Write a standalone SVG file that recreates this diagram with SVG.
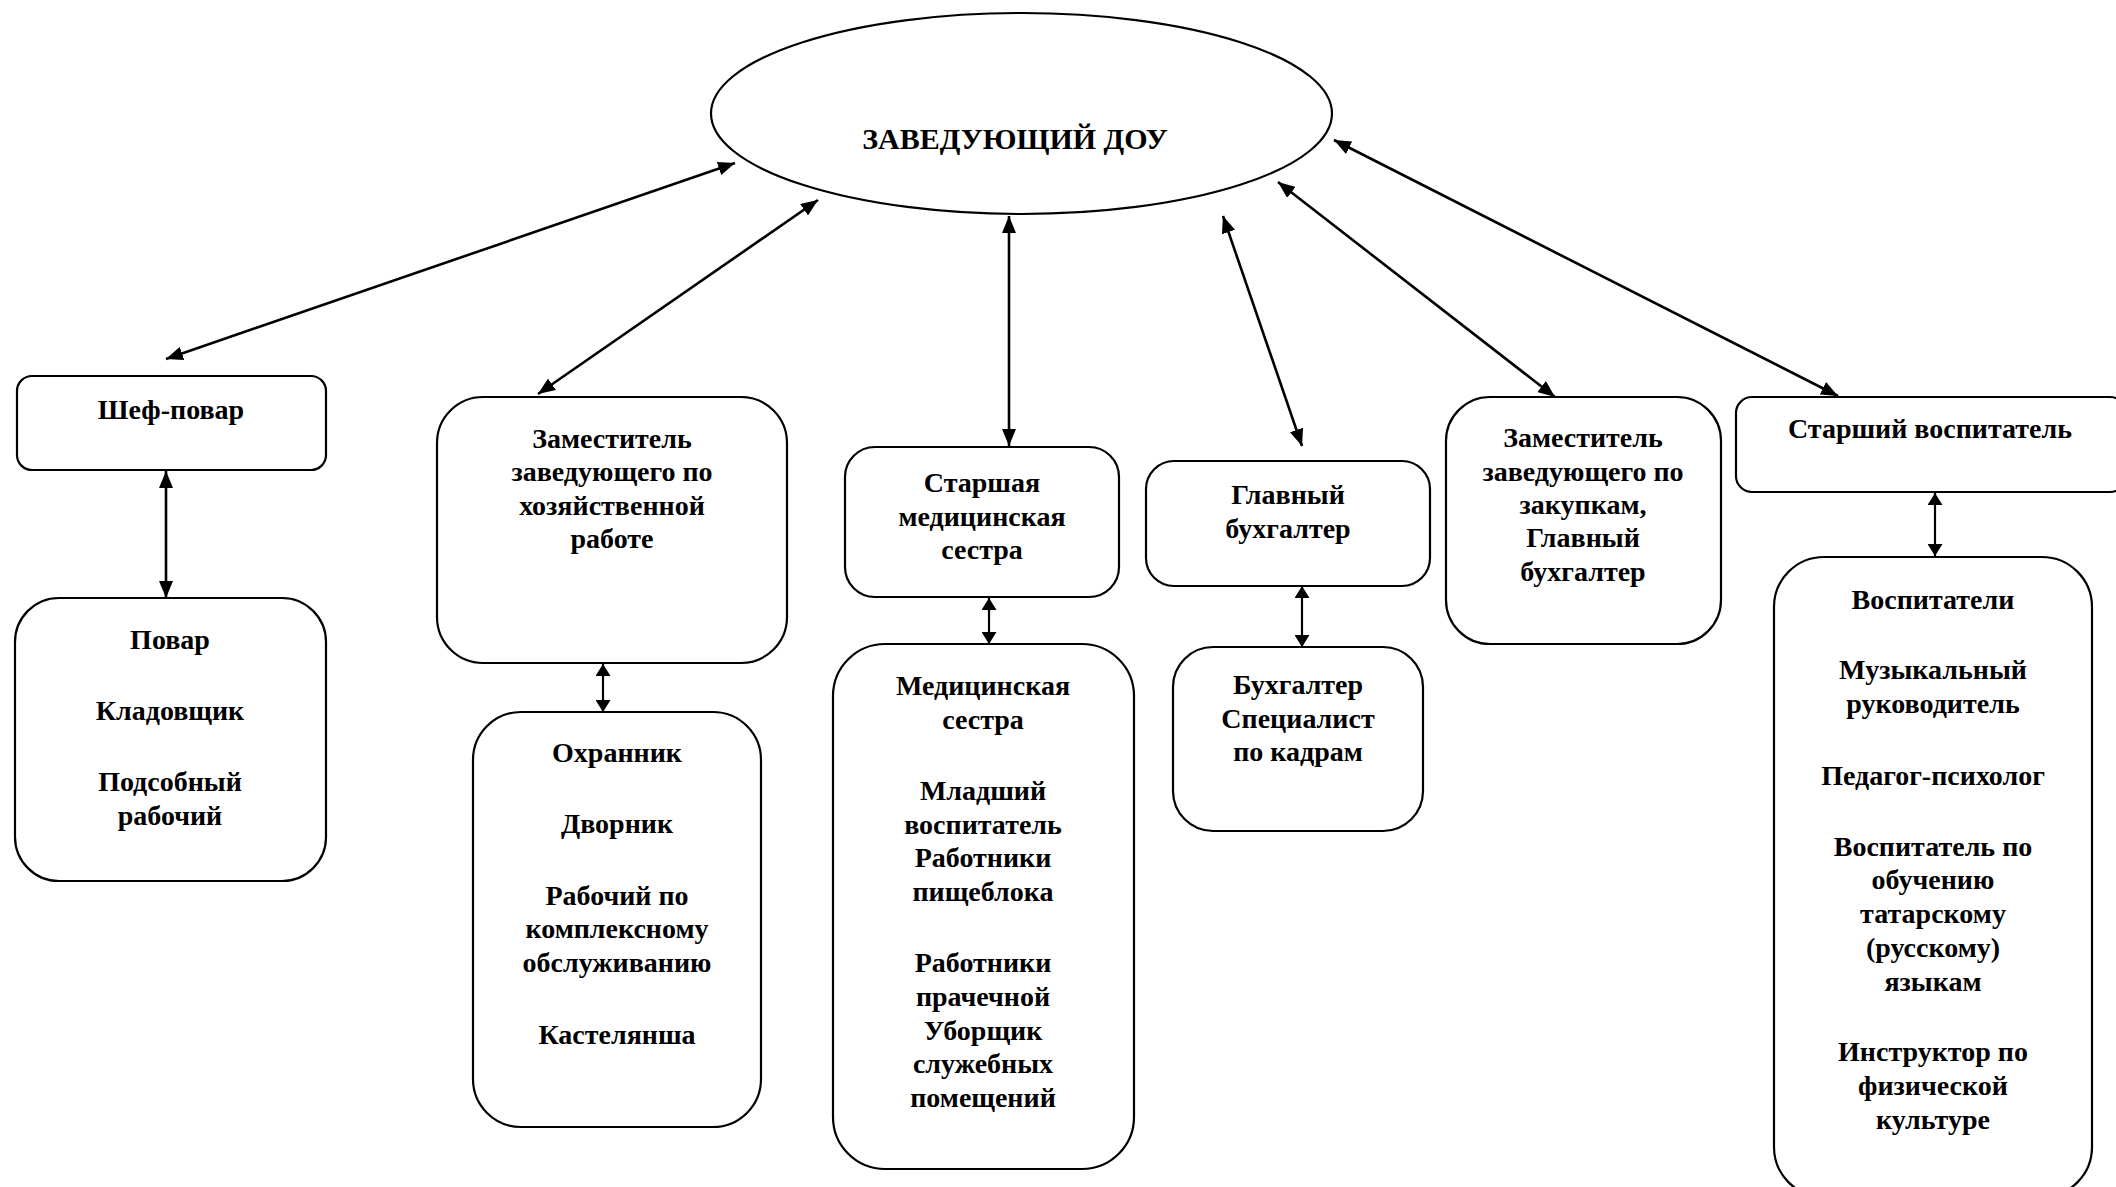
<svg xmlns="http://www.w3.org/2000/svg" width="2116" height="1187" viewBox="0 0 2116 1187">
<style>
.box{fill:#fff;stroke:#000;stroke-width:2.2}
.t{font-family:"Liberation Serif","Times New Roman",serif;font-weight:bold;font-size:28px;fill:#000;text-anchor:middle}
.c{stroke:#000;stroke-width:2.6;fill:none;marker-start:url(#ah);marker-end:url(#ah)}
.s{stroke:#000;stroke-width:2.2;fill:none;marker-start:url(#sh);marker-end:url(#sh)}
</style>
<defs>
<marker id="ah" viewBox="0 0 17 14" refX="17" refY="7" markerWidth="17" markerHeight="14" markerUnits="userSpaceOnUse" orient="auto-start-reverse">
<path d="M0,0 L17,7 L0,14 z" fill="#000"/>
</marker>
<marker id="sh" viewBox="0 0 12 15" refX="12" refY="7.5" markerWidth="12" markerHeight="15" markerUnits="userSpaceOnUse" orient="auto-start-reverse">
<path d="M0,0 L12,7.5 L0,15 z" fill="#000"/>
</marker>
</defs>
<rect width="2116" height="1187" fill="#fff"/>
<g id="connectors">
<line class="c" x1="735" y1="163" x2="166" y2="359"/>
<line class="c" x1="818" y1="200" x2="538" y2="394"/>
<line class="c" x1="1009" y1="216" x2="1009" y2="446"/>
<line class="c" x1="1223" y1="216" x2="1302" y2="446"/>
<line class="c" x1="1278" y1="182" x2="1555" y2="397"/>
<line class="c" x1="1334" y1="140" x2="1838" y2="396"/>
<line class="c" x1="166" y1="471" x2="166" y2="598"/>
<line class="s" x1="603" y1="664" x2="603" y2="712"/>
<line class="s" x1="989" y1="598" x2="989" y2="644"/>
<line class="s" x1="1302" y1="586" x2="1302" y2="647"/>
<line class="s" x1="1935" y1="493" x2="1935" y2="556"/>
</g>
<g id="head">
<ellipse class="box" cx="1021.5" cy="113.5" rx="310.5" ry="100.5"/>
<text class="t" x="1015" y="149" style="font-size:30px">ЗАВЕДУЮЩИЙ ДОУ</text>
</g>
<g id="chef">
<rect class="box" x="17" y="376" width="309" height="94" rx="15"/>
<text class="t" x="171" y="419">Шеф-повар</text>
</g>
<g id="cooks">
<rect class="box" x="15" y="598" width="311" height="283" rx="44"/>
<text class="t" x="170" y="649">Повар</text>
<text class="t" x="170" y="720">Кладовщик</text>
<text class="t" x="170" y="791">Подсобный</text>
<text class="t" x="170" y="825">рабочий</text>
</g>
<g id="deputy-eco">
<rect class="box" x="437" y="397" width="350" height="266" rx="46"/>
<text class="t" x="612" y="448">Заместитель</text>
<text class="t" x="612" y="481">заведующего по</text>
<text class="t" x="612" y="515">хозяйственной</text>
<text class="t" x="612" y="548">работе</text>
</g>
<g id="guards">
<rect class="box" x="473" y="712" width="288" height="415" rx="48"/>
<text class="t" x="617" y="762">Охранник</text>
<text class="t" x="617" y="833">Дворник</text>
<text class="t" x="617" y="905">Рабочий по</text>
<text class="t" x="617" y="938">комплексному</text>
<text class="t" x="617" y="972">обслуживанию</text>
<text class="t" x="617" y="1044">Кастелянша</text>
</g>
<g id="head-nurse">
<rect class="box" x="845" y="447" width="274" height="150" rx="30"/>
<text class="t" x="982" y="492">Старшая</text>
<text class="t" x="982" y="526">медицинская</text>
<text class="t" x="982" y="559">сестра</text>
</g>
<g id="nurses">
<rect class="box" x="833" y="644" width="301" height="525" rx="52"/>
<text class="t" x="983" y="695">Медицинская</text>
<text class="t" x="983" y="729">сестра</text>
<text class="t" x="983" y="800">Младший</text>
<text class="t" x="983" y="834">воспитатель</text>
<text class="t" x="983" y="867">Работники</text>
<text class="t" x="983" y="901">пищеблока</text>
<text class="t" x="983" y="972">Работники</text>
<text class="t" x="983" y="1006">прачечной</text>
<text class="t" x="983" y="1040">Уборщик</text>
<text class="t" x="983" y="1073">служебных</text>
<text class="t" x="983" y="1107">помещений</text>
</g>
<g id="chief-acc">
<rect class="box" x="1146" y="461" width="284" height="125" rx="28"/>
<text class="t" x="1288" y="504">Главный</text>
<text class="t" x="1288" y="538">бухгалтер</text>
</g>
<g id="acc">
<rect class="box" x="1173" y="647" width="250" height="184" rx="40"/>
<text class="t" x="1298" y="694">Бухгалтер</text>
<text class="t" x="1298" y="728">Специалист</text>
<text class="t" x="1298" y="761">по кадрам</text>
</g>
<g id="deputy-purch">
<rect class="box" x="1446" y="397" width="275" height="247" rx="44"/>
<text class="t" x="1583" y="447">Заместитель</text>
<text class="t" x="1583" y="481">заведующего по</text>
<text class="t" x="1583" y="514">закупкам,</text>
<text class="t" x="1583" y="547">Главный</text>
<text class="t" x="1583" y="581">бухгалтер</text>
</g>
<g id="senior-edu">
<rect class="box" x="1736" y="397" width="390" height="95" rx="16"/>
<text class="t" x="1930" y="438">Старший воспитатель</text>
</g>
<g id="educators">
<rect class="box" x="1774" y="557" width="318" height="640" rx="50"/>
<text class="t" x="1933" y="609">Воспитатели</text>
<text class="t" x="1933" y="679">Музыкальный</text>
<text class="t" x="1933" y="713">руководитель</text>
<text class="t" x="1933" y="785">Педагог-психолог</text>
<text class="t" x="1933" y="856">Воспитатель по</text>
<text class="t" x="1933" y="889">обучению</text>
<text class="t" x="1933" y="923">татарскому</text>
<text class="t" x="1933" y="957">(русскому)</text>
<text class="t" x="1933" y="991">языкам</text>
<text class="t" x="1933" y="1061">Инструктор по</text>
<text class="t" x="1933" y="1095">физической</text>
<text class="t" x="1933" y="1129">культуре</text>
</g>
</svg>
